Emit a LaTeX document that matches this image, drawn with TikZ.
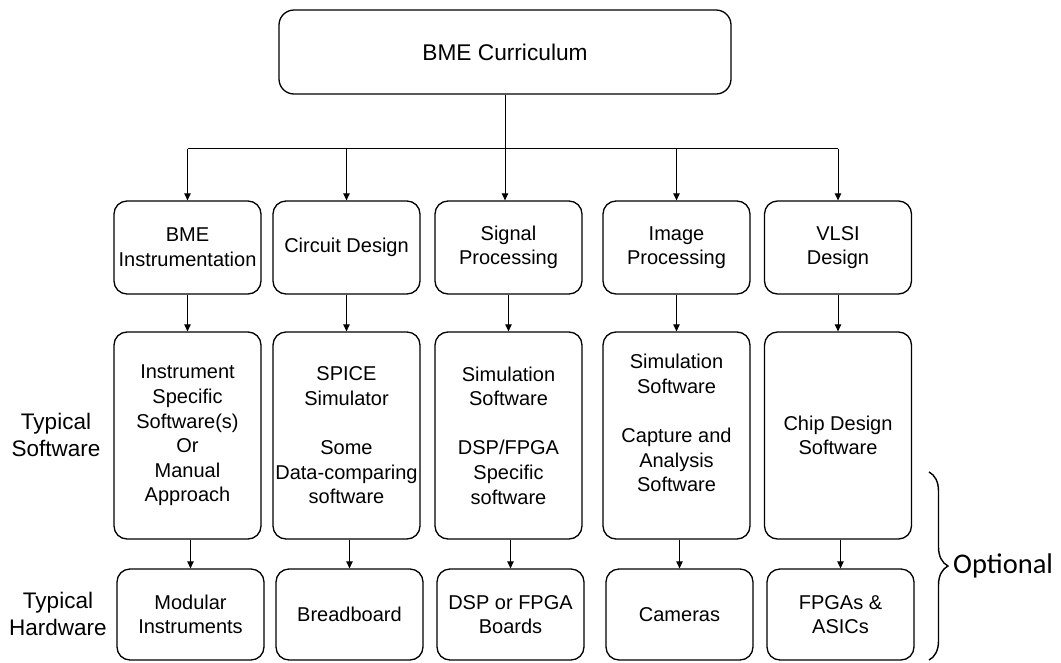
\documentclass[tikz,border=0pt]{standalone}
\usepackage{fontspec}
\setmainfont{Liberation Sans}
\newfontfamily\bracefont{Carlito}
\usetikzlibrary{arrows.meta,decorations.pathreplacing}

\begin{document}
\begin{tikzpicture}[x=1pt,y=-1pt,
  box/.style={draw, line width=1.3pt, rounded corners=13pt, inner sep=0pt,
    align=center, font=\fontsize{20}{24.6}\selectfont, minimum width=147pt},
  toprow/.style={box, minimum height=93pt},
  swrow/.style={box, minimum height=207pt},
  hwrow/.style={box, minimum height=91pt},
  sidelabel/.style={align=center, inner sep=0pt, font=\fontsize{22.5}{27.5}\selectfont},
  link/.style={line width=0.9pt, -{Triangle[length=7pt,width=6.5pt]}},
  bus/.style={line width=0.9pt}]
\useasboundingbox (0,0) rectangle (1061,662);

% root
\node[box, minimum width=452pt, minimum height=84pt, rounded corners=15pt,
      font=\fontsize{22.7}{27}\selectfont] (root) at (505,52) {BME Curriculum};

% course areas
\node[toprow] (b1) at (187.5,247.5) {BME\\Instrumentation};
\node[toprow] (b2) at (346.5,247.5) {Circuit Design};
\node[toprow] (b3) at (508.5,247.5) {Signal\\Processing};
\node[toprow] (b4) at (676.5,247.5) {Image\\Processing};
\node[toprow] (b5) at (838,247.5) {VLSI\\Design};

% typical software
\node[swrow] (s1) at (187.5,435.5) {Instrument\\Specific\\Software(s)\\Or\\Manual\\Approach};
\node[swrow] (s2) at (346.5,435.5) {SPICE\\Simulator\\[24.6pt]Some\\Data-comparing\\software};
\node[swrow] (s3) at (508.5,435.5) {Simulation\\Software\\[24.6pt]DSP/FPGA\\Specific\\software};
\node[swrow] (s4) at (676.5,435.5) {Simulation\\Software\\[24.6pt]Capture and\\Analysis\\Software\\\mbox{}};
\node[swrow] (s5) at (838,435.5) {Chip Design\\Software};

% typical hardware
\node[hwrow] (h1) at (190.5,614.5) {Modular\\Instruments};
\node[hwrow] (h2) at (349.5,614.5) {Breadboard};
\node[hwrow] (h3) at (510.5,614.5) {DSP or FPGA\\Boards};
\node[hwrow] (h4) at (679.5,614.5) {Cameras};
\node[hwrow] (h5) at (840.5,614.5) {FPGAs \&\\ASICs};

% row labels
\node[sidelabel] (swlab) at (56,435) {Typical\\Software};
\node[sidelabel] (hwlab) at (58,614) {Typical\\Hardware};

% distribution bus
\coordinate (busy) at (0,148.5);
\draw[link] (root.south) -- (root.south |- b3.north);
\draw[bus] (b1.north |- busy) -- (b5.north |- busy);
\foreach \n in {b1,b2,b4,b5}
  \draw[link] (\n.north |- busy) -- (\n.north);

% column arrows
\foreach \i in {1,...,5} {
  \draw[link] (b\i.south) -- (s\i.north);
  \draw[link] (h\i.north |- s\i.south) -- (h\i.north);
}

% optional brace
\coordinate (optTop) at (929,472);
\coordinate (optBot) at (929,660);
\draw[line width=1.4pt, decorate, decoration={brace, amplitude=19pt}] (optTop) -- (optBot);
\node[anchor=west, inner sep=0pt, font=\bracefont\fontsize{28.5}{34}\selectfont] (opt) at (953,566) {Optional};
\end{tikzpicture}
\end{document}
